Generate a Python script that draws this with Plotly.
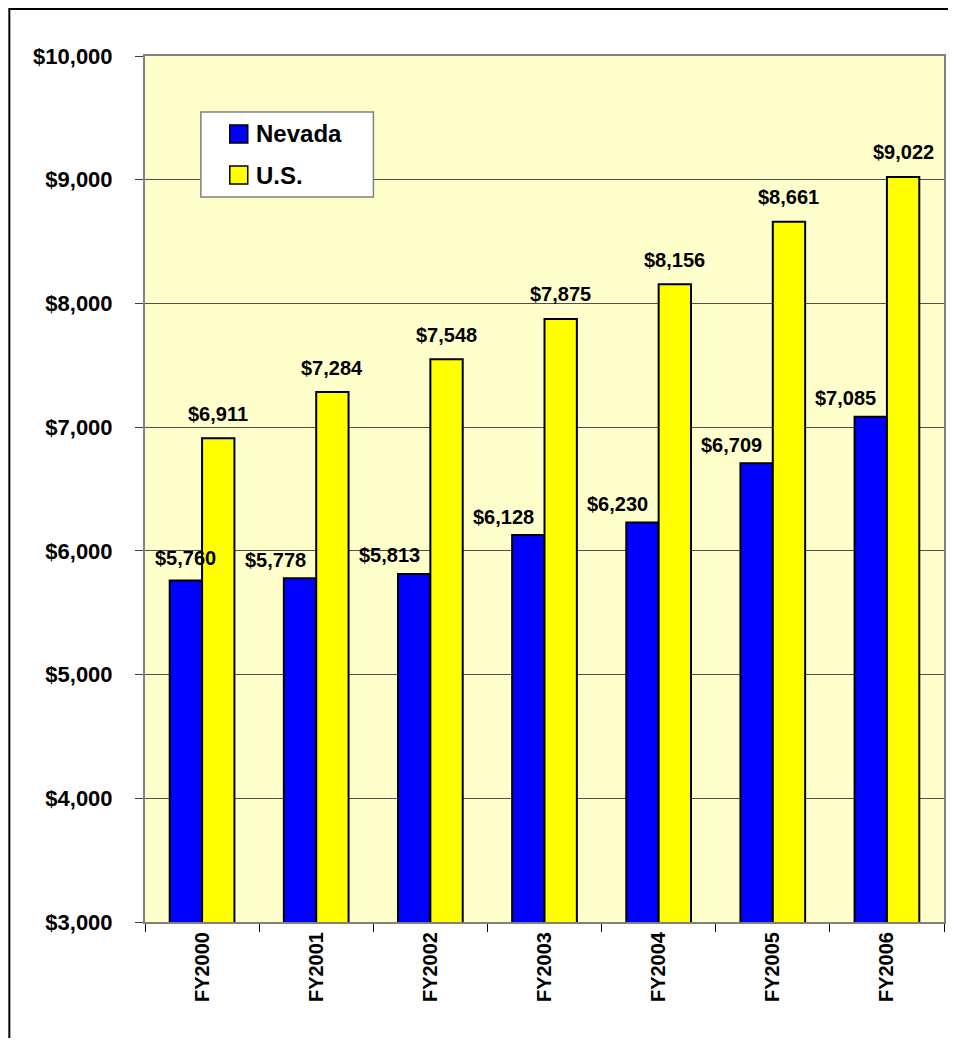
import plotly.graph_objects as go

categories = ["FY2000", "FY2001", "FY2002", "FY2003", "FY2004", "FY2005", "FY2006"]
nevada = [5760, 5778, 5813, 6128, 6230, 6709, 7085]
us = [6911, 7284, 7548, 7875, 8156, 8661, 9022]
series_names = ["Nevada", "U.S."]
y_ticks = [3000, 4000, 5000, 6000, 7000, 8000, 9000, 10000]

BLUE = "#0000FF"
YELLOW = "#FFFF00"
FONT = "Liberation Sans"

# page geometry (the page body adds an 8px offset)
OFF = 8
PL, PR, PT, PB = 145, 946, 56, 922  # plot area in page pixels
W, H = 956 - 2 * OFF, 1046 - 2 * OFF


def px(x):
    return (x - PL) / (PR - PL)


def py(y):
    return (PB - y) / (PB - PT)


fig = go.Figure()
fig.add_trace(go.Bar(x=categories, y=nevada, name=series_names[0], showlegend=False,
                     marker=dict(color=BLUE, line=dict(color="black", width=2))))
fig.add_trace(go.Bar(x=categories, y=us, name=series_names[1], showlegend=False,
                     marker=dict(color=YELLOW, line=dict(color="black", width=2))))

ann = []
half = 0.5 * (1 - 0.433) / 2  # bar centre offset from category centre (category units)
lab_font = dict(family=FONT, size=20, color="black", weight="bold")
for i, c in enumerate(categories):
    dx_nv = 0 if i == 0 else -25
    dy_nv = 23 if i == 0 else 18.5
    ann.append(dict(x=i - half, y=nevada[i], xref="x", yref="y", text=f"${nevada[i]:,}",
                    showarrow=False, xshift=dx_nv, yshift=dy_nv, yanchor="middle",
                    font=lab_font))
    ann.append(dict(x=i + half, y=us[i], xref="x", yref="y", text=f"${us[i]:,}",
                    showarrow=False, yshift=24.5, yanchor="middle", font=lab_font))

# hand-drawn legend
shapes = [
    dict(type="rect", xref="paper", yref="paper", x0=px(201), x1=px(374), y0=py(197), y1=py(112),
         fillcolor="white", line=dict(color="#808080", width=1.5), layer="above"),
]
leg_rows = [(series_names[0], BLUE, 134), (series_names[1], YELLOW, 175)]
for nm, col, cy in leg_rows:
    shapes.append(dict(type="rect", xref="paper", yref="paper",
                       x0=px(230), x1=px(248), y0=py(cy + 9), y1=py(cy - 9),
                       fillcolor=col, line=dict(color="black", width=1.5), layer="above"))
    ann.append(dict(x=px(254), y=py(cy), xref="paper", yref="paper", text=nm, showarrow=False,
                    xanchor="left", yanchor="middle",
                    font=dict(family=FONT, size=24, color="black", weight="bold")))

# outer frame
shapes.append(dict(type="rect", xref="paper", yref="paper",
                   x0=px(9), x1=px(1000), y0=py(1100), y1=py(OFF + 1),
                   line=dict(color="black", width=2), fillcolor="rgba(0,0,0,0)", layer="below"))

fig.update_layout(
    width=W, height=H,
    margin=dict(l=PL - OFF, r=OFF + W - PR, t=PT - OFF, b=OFF + H - PB),
    paper_bgcolor="white", plot_bgcolor="#FFFFCC",
    barmode="group", bargap=0.433, bargroupgap=0,
    font=dict(family=FONT, color="black"),
    showlegend=False,
    annotations=ann,
    shapes=shapes,
)

fig.update_xaxes(type="category", range=[-0.5, len(categories) - 0.5],
                 tickangle=-90, tickson="boundaries", ticks="outside", ticklen=8,
                 tickcolor="black", tickwidth=1,
                 showline=True, linecolor="#808080", linewidth=2, mirror=True,
                 tickfont=dict(family=FONT, size=20, color="black", weight="bold"),
                 showgrid=False)
fig.update_yaxes(range=[3000, 10000], tickvals=y_ticks,
                 ticktext=[f"${v:,}" for v in y_ticks],
                 ticks="outside", ticklen=8, tickcolor="#404040", tickwidth=1,
                 ticklabelstandoff=18,
                 showline=True, linecolor="#808080", linewidth=2, mirror=True,
                 showgrid=True, gridcolor="#505050", gridwidth=1, zeroline=False,
                 tickfont=dict(family=FONT, size=22, color="black", weight="bold"))

fig.write_html("out.html")
